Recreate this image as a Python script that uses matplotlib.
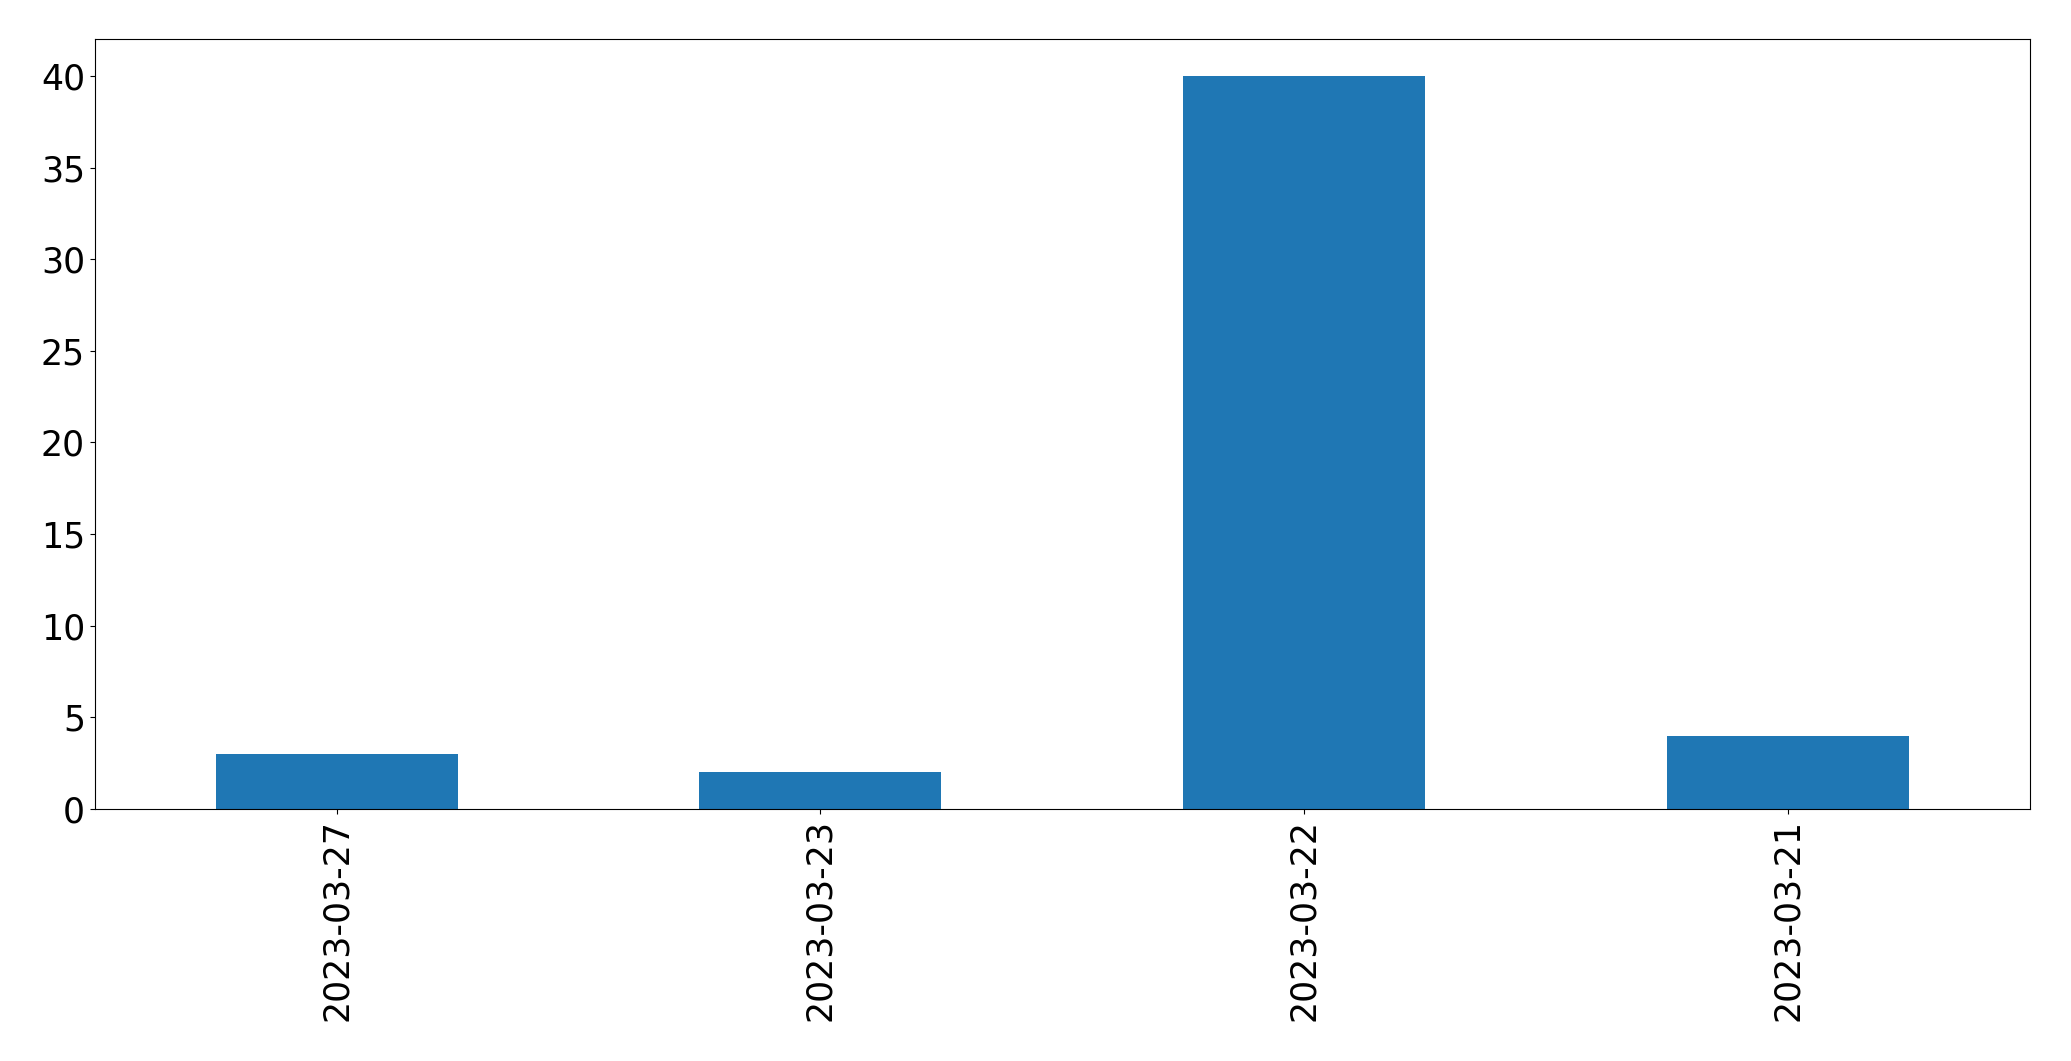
import matplotlib
matplotlib.use('Agg')
import matplotlib.pyplot as plt

# Counts per date
dates = ['2023-03-27', '2023-03-23', '2023-03-22', '2023-03-21']
counts = [3, 2, 40, 4]

fig = plt.figure(figsize=(20.71, 10.61), dpi=100)
ax = fig.add_axes([94.7 / 2071, 1 - 809 / 1061, (2030 - 94.7) / 2071, (809 - 39.3) / 1061])

x = range(len(dates))
ax.bar(x, counts, width=0.5, color='#1f77b4')
ax.set_xlim(-0.5, len(dates) - 0.5)
ax.set_ylim(0, 42)
ax.set_xticks(list(x))
ax.set_xticklabels(dates, rotation=90)
ax.tick_params(labelsize=25)

fig.savefig('out.png', dpi=100)
